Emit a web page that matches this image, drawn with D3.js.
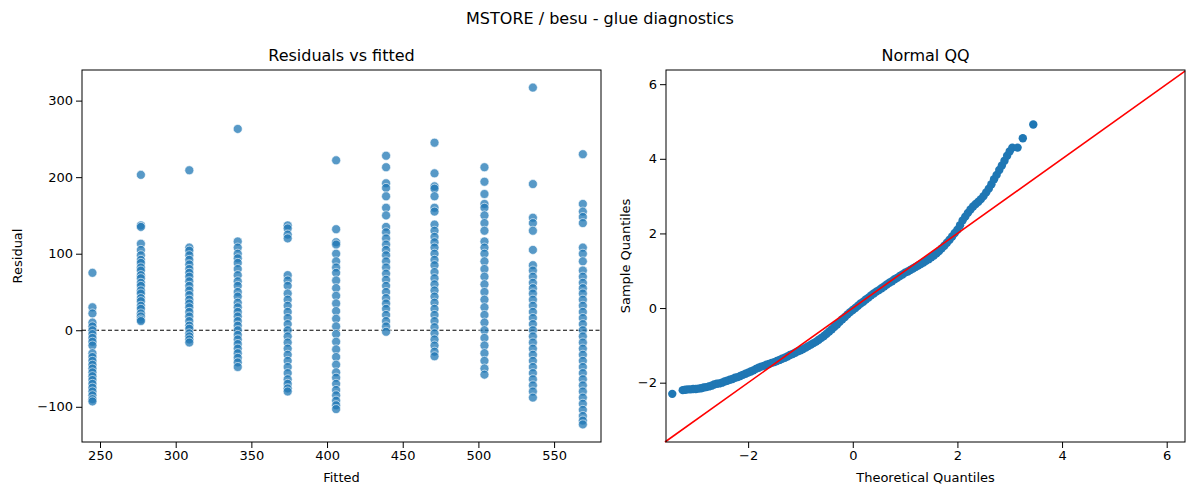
<!DOCTYPE html>
<html><head><meta charset="utf-8">
<script src="https://cdn.jsdelivr.net/npm/d3@7"></script>
<style>body{margin:0;background:#fff}svg{font-family:"DejaVu Sans",sans-serif}</style>
</head><body>
<svg width="1200" height="500"></svg>
<script>
// fitted levels and residuals per level
var fittedLevels = [245, 277, 309, 341, 374, 406, 439, 471, 504, 536, 569];
var residuals = [
  [75, 30, 22, 10, 5, 0, -5, -10, -15, -20, -30, -35, -40, -45, -50, -55, -60, -65, -70, -75, -80, -85, -90, -93],
  [203, 137, 135, 113, 105, 98, 92, 88, 82, 78, 72, 68, 62, 58, 52, 48, 42, 38, 32, 28, 22, 18, 14, 12],
  [209, 108, 104, 98, 92, 86, 80, 75, 70, 64, 58, 52, 46, 40, 35, 30, 24, 18, 12, 6, 2, -4, -8, -12, -16],
  [263, 116, 108, 100, 94, 88, 80, 72, 64, 58, 50, 44, 36, 30, 24, 18, 12, 6, 0, -6, -12, -18, -24, -30, -36, -42, -48],
  [137, 133, 125, 120, 72, 65, 58, 48, 40, 32, 24, 16, 8, 0, -8, -16, -24, -32, -40, -48, -56, -64, -70, -76, -80],
  [222, 132, 115, 112, 100, 90, 82, 75, 65, 55, 45, 35, 25, 15, 5, -5, -15, -25, -35, -45, -55, -62, -70, -78, -85, -92, -98, -103],
  [228, 213, 192, 186, 175, 160, 150, 135, 128, 120, 112, 105, 98, 90, 82, 74, 66, 58, 50, 42, 35, 28, 20, 12, 5, -2],
  [245, 205, 188, 185, 175, 160, 155, 138, 130, 122, 115, 108, 100, 92, 85, 76, 68, 60, 52, 44, 36, 28, 20, 12, 4, -4, -12, -20, -28, -34],
  [213, 194, 178, 165, 160, 150, 140, 130, 116, 108, 100, 90, 80, 70, 60, 50, 40, 30, 20, 10, 0, -10, -20, -30, -40, -50, -58],
  [317, 191, 147, 140, 130, 105, 85, 78, 70, 62, 55, 48, 40, 32, 24, 16, 8, 0, -8, -16, -24, -32, -40, -48, -56, -64, -72, -80, -88],
  [230, 165, 155, 148, 140, 108, 100, 90, 78, 70, 62, 55, 48, 40, 32, 24, 16, 8, 0, -8, -16, -24, -32, -40, -48, -56, -64, -72, -80, -88, -96, -104, -112, -118, -123]
];
// QQ points (theoretical, sample)
var qqTheo = [-3.45,-3.25,-3.2,-3.15,-3.1,-3.05,-3.0,-2.95,-2.9,-2.85,-2.8,-2.75,-2.7,-2.65,-2.6,-2.55,-2.5,-2.45,-2.4,-2.35,-2.3,-2.25,-2.2,-2.15,-2.1,-2.05,-2.0,-1.95,-1.9,-1.85,-1.8,-1.75,-1.7,-1.65,-1.6,-1.55,-1.5,-1.45,-1.4,-1.35,-1.3,-1.25,-1.2,-1.15,-1.1,-1.05,-1.0,-0.95,-0.9,-0.85,-0.8,-0.75,-0.7,-0.65,-0.6,-0.55,-0.5,-0.45,-0.4,-0.35,-0.3,-0.25,-0.2,-0.15,-0.1,-0.05,0.0,0.05,0.1,0.15,0.2,0.25,0.3,0.35,0.4,0.45,0.5,0.55,0.6,0.65,0.7,0.75,0.8,0.85,0.9,0.95,1.0,1.05,1.1,1.15,1.2,1.25,1.3,1.35,1.4,1.45,1.5,1.55,1.6,1.65,1.7,1.75,1.8,1.85,1.9,1.95,2.0,2.05,2.1,2.15,2.2,2.25,2.3,2.35,2.4,2.45,2.5,2.55,2.6,2.65,2.7,2.75,2.8,2.85,2.9,2.95,3.0,3.05,3.15,3.25,3.45];
var qqSamp = [-2.3,-2.2,-2.19,-2.18,-2.18,-2.17,-2.17,-2.16,-2.15,-2.13,-2.12,-2.1,-2.08,-2.05,-2.03,-2.02,-2.0,-1.97,-1.95,-1.92,-1.9,-1.87,-1.85,-1.82,-1.79,-1.76,-1.73,-1.7,-1.67,-1.63,-1.6,-1.57,-1.55,-1.52,-1.5,-1.47,-1.45,-1.42,-1.39,-1.36,-1.33,-1.3,-1.26,-1.23,-1.2,-1.16,-1.13,-1.1,-1.06,-1.02,-0.98,-0.94,-0.9,-0.85,-0.8,-0.75,-0.69,-0.63,-0.57,-0.5,-0.44,-0.37,-0.3,-0.24,-0.17,-0.11,-0.05,0.0,0.06,0.12,0.17,0.23,0.28,0.34,0.39,0.44,0.48,0.53,0.58,0.63,0.68,0.72,0.77,0.81,0.86,0.9,0.95,0.98,1.02,1.06,1.1,1.14,1.18,1.22,1.27,1.31,1.36,1.41,1.47,1.53,1.6,1.67,1.75,1.83,1.92,2.01,2.1,2.22,2.35,2.45,2.55,2.64,2.72,2.79,2.85,2.92,3.0,3.1,3.2,3.32,3.45,3.57,3.7,3.82,3.95,4.08,4.2,4.3,4.3,4.55,4.92,5.93];

var svg = d3.select("svg");
var blue = "#1f77b4";
var minus = d => String(d).replace("-", "\u2212");

svg.append("text").attr("x", 600).attr("y", 24).attr("text-anchor", "middle")
  .attr("font-size", 16).text("MSTORE / besu - glue diagnostics");

function frame(x0, x1, y0, y1, xs, ys, xticks, yticks, title, xl, yl, ylOff) {
  var g = svg.append("g");
  g.append("g").attr("transform", `translate(0,${y1})`)
    .call(d3.axisBottom(xs).tickValues(xticks).tickSizeOuter(0).tickFormat(minus));
  g.append("g").attr("transform", `translate(${x0},0)`)
    .call(d3.axisLeft(ys).tickValues(yticks).tickSizeOuter(0).tickFormat(minus));
  g.selectAll(".tick text").attr("font-size", 13).attr("fill", "#000").attr("font-family", "DejaVu Sans");
  g.selectAll(".domain").remove();
  g.append("rect").attr("x", x0).attr("y", y0).attr("width", x1 - x0).attr("height", y1 - y0)
    .attr("fill", "none").attr("stroke", "#000").attr("stroke-width", 1);
  g.append("text").attr("x", (x0 + x1) / 2).attr("y", y0 - 9).attr("text-anchor", "middle")
    .attr("font-size", 16).text(title);
  g.append("text").attr("x", (x0 + x1) / 2).attr("y", y1 + 40).attr("text-anchor", "middle")
    .attr("font-size", 13).text(xl);
  g.append("text").attr("transform", `translate(${x0 - ylOff},${(y0 + y1) / 2}) rotate(-90)`)
    .attr("text-anchor", "middle").attr("font-size", 13).text(yl);
}

// left panel
var L = {x0: 82, x1: 601, y0: 70, y1: 442};
var xL = d3.scaleLinear().domain([238.1, 581]).range([L.x0, L.x1]);
var yL = d3.scaleLinear().domain([-146, 340]).range([L.y1, L.y0]);
var pts = [];
fittedLevels.forEach((f, i) => residuals[i].forEach(r => pts.push({f: f, r: r})));
var gl = svg.append("g");
gl.append("line").attr("x1", L.x0).attr("x2", L.x1).attr("y1", yL(0)).attr("y2", yL(0))
  .attr("stroke", "#000").attr("stroke-dasharray", "4,2.5");
gl.selectAll("circle").data(pts).join("circle")
  .attr("cx", d => xL(d.f)).attr("cy", d => yL(d.r)).attr("r", 4.5)
  .attr("fill", blue).attr("fill-opacity", 0.75).attr("stroke", "#fff").attr("stroke-width", 0.6);
frame(L.x0, L.x1, L.y0, L.y1, xL, yL, [250, 300, 350, 400, 450, 500, 550], [-100, 0, 100, 200, 300],
  "Residuals vs fitted", "Fitted", "Residual", 60);

// right panel
var R = {x0: 666, x1: 1185, y0: 70, y1: 442};
var xR = d3.scaleLinear().domain([-3.57, 6.35]).range([R.x0, R.x1]);
var yR = d3.scaleLinear().domain([-3.59, 6.38]).range([R.y1, R.y0]);
var gr = svg.append("g");
gr.selectAll("circle").data(qqTheo.map((t, i) => [t, qqSamp[i]])).join("circle")
  .attr("cx", d => xR(d[0])).attr("cy", d => yR(d[1])).attr("r", 4.2).attr("fill", blue);
gr.append("line").attr("x1", xR(-3.59)).attr("y1", yR(-3.59)).attr("x2", xR(6.35)).attr("y2", yR(6.35))
  .attr("stroke", "red").attr("stroke-width", 1.6);
frame(R.x0, R.x1, R.y0, R.y1, xR, yR, [-2, 0, 2, 4, 6], [-2, 0, 2, 4, 6],
  "Normal QQ", "Theoretical Quantiles", "Sample Quantiles", 36);
</script>
</body></html>
